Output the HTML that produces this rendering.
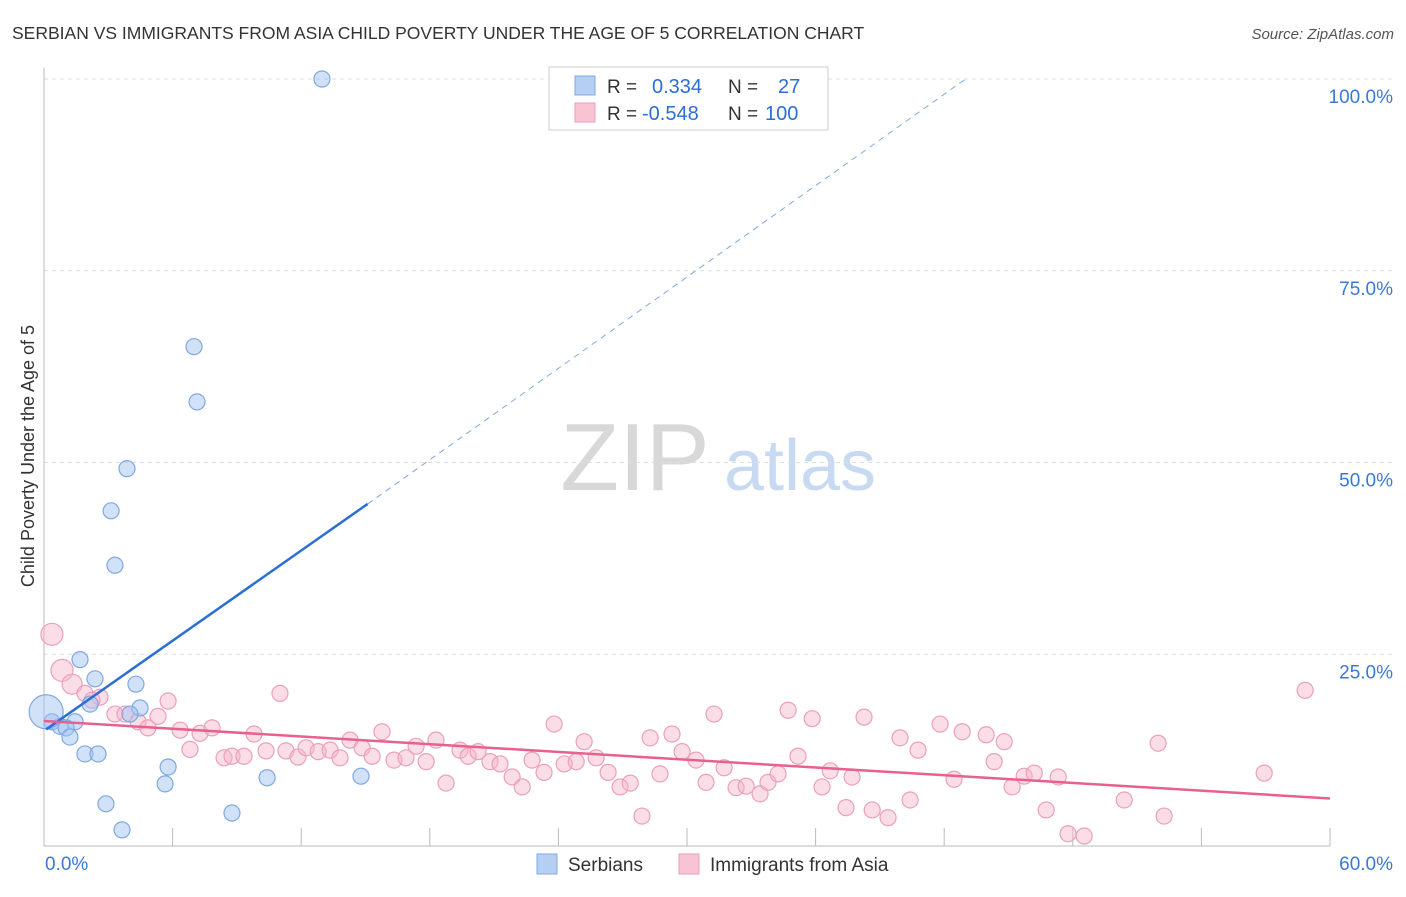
<!DOCTYPE html>
<html><head><meta charset="utf-8"><style>
body{margin:0;background:#fff;font-family:"Liberation Sans",sans-serif;}
svg text{font-family:"Liberation Sans",sans-serif;}
</style></head><body>
<svg id="chart" width="1406" height="892" viewBox="0 0 1406 892" xmlns="http://www.w3.org/2000/svg">
<text x="12" y="39" font-size="17.5" fill="#333">SERBIAN VS IMMIGRANTS FROM ASIA CHILD POVERTY UNDER THE AGE OF 5 CORRELATION CHART</text>
<text x="1394" y="39" font-size="15" fill="#555" font-style="italic" text-anchor="end">Source: ZipAtlas.com</text>
<g>
<text x="635" y="490" font-size="96" fill="#d8d8d8" text-anchor="middle" font-family="Liberation Serif,serif">ZIP</text>
<text x="800" y="490" font-size="72" fill="#c8daf2" text-anchor="middle">atlas</text>
</g>
<g id="grid"></g>
<g id="axes"></g>
<text transform="translate(34,456) rotate(-90)" font-size="18" fill="#333" text-anchor="middle">Child Poverty Under the Age of 5</text>
<g id="marks"></g>
<g>
<rect x="549" y="67" width="279" height="63" fill="#fff" stroke="#ccc"/>
<rect x="575" y="76" width="20" height="19" fill="#b5cff3" stroke="#7fa8e0"/>
<rect x="575" y="103" width="20" height="19" fill="#f8c4d4" stroke="#e9a0b8"/>
<text x="607" y="93" font-size="19" fill="#333">R =</text><text x="652" y="93" font-size="20" fill="#2a6fd6">0.334</text>
<text x="728" y="93" font-size="19" fill="#333">N =</text><text x="778" y="93" font-size="20" fill="#2a6fd6">27</text>
<text x="607" y="120" font-size="19" fill="#333">R =</text><text x="642" y="120" font-size="20" fill="#2a6fd6">-0.548</text>
<text x="728" y="120" font-size="19" fill="#333">N =</text><text x="765" y="120" font-size="20" fill="#2a6fd6">100</text>
</g>
<g>
<rect x="537" y="854" width="20" height="20" fill="#b5cff3" stroke="#7fa8e0"/>
<text x="568" y="871" font-size="19" fill="#333">Serbians</text>
<rect x="679" y="854" width="20" height="20" fill="#f8c4d4" stroke="#e9a0b8"/>
<text x="710" y="871" font-size="19" fill="#333">Immigrants from Asia</text>
</g>
</svg>
<script>
const xTickLabels=["0.0%","60.0%"];
const yTickValues=[25,50,75,100];
const yTickLabels=["25.0%","50.0%","75.0%","100.0%"];
const serbX=[12.97,7.0,7.14,3.87,3.13,3.31,1.68,2.38,4.29,2.15,4.48,4.01,0.37,0.75,1.45,1.03,1.21,1.91,2.52,5.79,5.65,10.41,14.79,2.89,8.77,3.64,0.1];
const serbY=[100,65.1,57.9,49.2,43.7,36.6,24.3,21.8,21.1,18.5,18.0,17.2,16.2,15.6,16.2,15.4,14.2,12.0,12.0,10.3,8.1,8.9,9.1,5.5,4.3,2.1,17.5];
const serbSize=[8,8,8,8,8,8,8,8,8,8,8,8,8,8,8,8,8,8,8,8,8,8,8,8,8,8,17];
const asiaX=[0.37,0.84,1.31,1.91,2.61,2.24,3.31,3.78,4.39,4.85,5.32,5.79,6.35,6.81,7.28,7.84,8.40,8.77,9.33,9.80,10.36,11.01,11.29,11.85,12.23,12.79,13.35,13.81,14.28,14.84,15.31,15.77,16.33,16.89,17.36,17.83,18.29,18.76,19.41,19.79,20.25,20.81,21.28,21.84,22.31,22.77,23.33,23.80,24.27,24.83,25.20,25.76,26.32,26.88,27.35,27.90,28.28,28.74,29.30,29.77,30.42,30.89,31.26,31.73,32.29,32.76,33.41,33.78,34.25,34.72,35.18,35.84,36.30,36.68,37.42,37.70,38.26,38.64,39.38,39.94,40.41,40.78,41.81,42.46,42.84,43.96,44.33,44.80,45.17,45.73,46.20,46.76,47.32,47.78,48.53,50.40,51.98,52.26,56.93,58.84];
const asiaY=[27.6,22.9,21.1,19.9,19.4,19.0,17.2,17.2,16.2,15.4,16.9,18.9,15.1,12.6,14.7,15.4,11.5,11.7,11.7,14.6,12.4,19.9,12.4,11.6,12.8,12.3,12.5,11.5,13.8,12.8,11.7,14.9,11.2,11.5,13.0,11.0,13.8,8.2,12.5,11.7,12.3,11.0,10.7,9.0,7.7,11.2,9.6,15.9,10.7,11.0,13.6,11.5,9.6,7.7,8.2,3.9,14.1,9.4,14.6,12.3,11.2,8.3,17.2,10.2,7.6,7.8,6.8,8.3,9.4,17.7,11.7,16.6,7.7,9.8,5.0,9.0,16.8,4.7,3.7,14.1,6.0,12.5,15.9,8.7,14.9,14.5,11.0,13.6,7.7,9.1,9.5,4.7,9.0,1.6,1.3,6.0,13.4,3.9,9.5,20.3];
const asiaBig=[11,11,10];
const serbLine=[[0.1,15.2],[15.1,44.6],[43.0,100]];
const asiaLine=[[0,16.3],[60,6.2]];
const X0=44,X1=1330,Y0=846,Y100=79;
const sx=v=>X0+(X1-X0)*v/60;
const sy=v=>Y0-(Y0-Y100)*v/100;
const NS="http://www.w3.org/2000/svg";
function mk(tag,attrs,parent){const e=document.createElementNS(NS,tag);for(const k in attrs)e.setAttribute(k,attrs[k]);parent.appendChild(e);return e;}
const grid=document.getElementById('grid'),axes=document.getElementById('axes'),marks=document.getElementById('marks');
yTickValues.forEach((v,i)=>{
 const l=mk('line',{x1:X0,x2:1394,y1:sy(v),y2:sy(v),stroke:'#ddd','stroke-dasharray':'4,4'},grid);
 
 
 const t=mk('text',{x:1393,y:sy(v)+24,'font-size':19,fill:'#3b78d8','text-anchor':'end'},axes);
 t.textContent=yTickLabels[i];
 
 
});
const ax=mk('line',{x1:X0,x2:X1,y1:Y0,y2:Y0,stroke:'#bbb'},axes);


const ay=mk('line',{x1:X0,x2:X0,y1:68,y2:Y0,stroke:'#bbb'},axes);


for(let i=0;i<=10;i++){
 const tk=mk('line',{x1:sx(i*6),x2:sx(i*6),y1:828,y2:Y0,stroke:'#bbb'},axes);
 
 
}
[[0,'start',45],[60,'end',1393]].forEach((d,i)=>{
 const t=mk('text',{x:d[2],y:870,'font-size':19,fill:'#3b78d8','text-anchor':d[1]},axes);
 t.textContent=xTickLabels[i];
 
 
});
asiaX.forEach((v,i)=>{
 const c=mk('circle',{cx:sx(v),cy:sy(asiaY[i]),r:asiaBig[i]||8,fill:'rgba(246,180,202,0.45)',stroke:'#eaa0ba','stroke-width':1.2},marks);
 
 
});
serbX.forEach((v,i)=>{
 const c=mk('circle',{cx:sx(v),cy:sy(serbY[i]),r:serbSize[i],fill:'rgba(164,196,242,0.5)',stroke:'#7fa8e0','stroke-width':1.2},marks);
 
 
});
const bl=mk('line',{x1:sx(serbLine[0][0]),y1:sy(serbLine[0][1]),x2:sx(serbLine[1][0]),y2:sy(serbLine[1][1]),stroke:'#2a6fd6','stroke-width':2.5},marks);


const bd=mk('line',{x1:sx(serbLine[1][0]),y1:sy(serbLine[1][1]),x2:sx(serbLine[2][0]),y2:sy(serbLine[2][1]),stroke:'#7fa8e0','stroke-width':1,'stroke-dasharray':'6,5'},marks);


const pl=mk('line',{x1:sx(asiaLine[0][0]),y1:sy(asiaLine[0][1]),x2:sx(asiaLine[1][0]),y2:sy(asiaLine[1][1]),stroke:'#e8608e','stroke-width':2.5},marks);


</script>
</body></html>
